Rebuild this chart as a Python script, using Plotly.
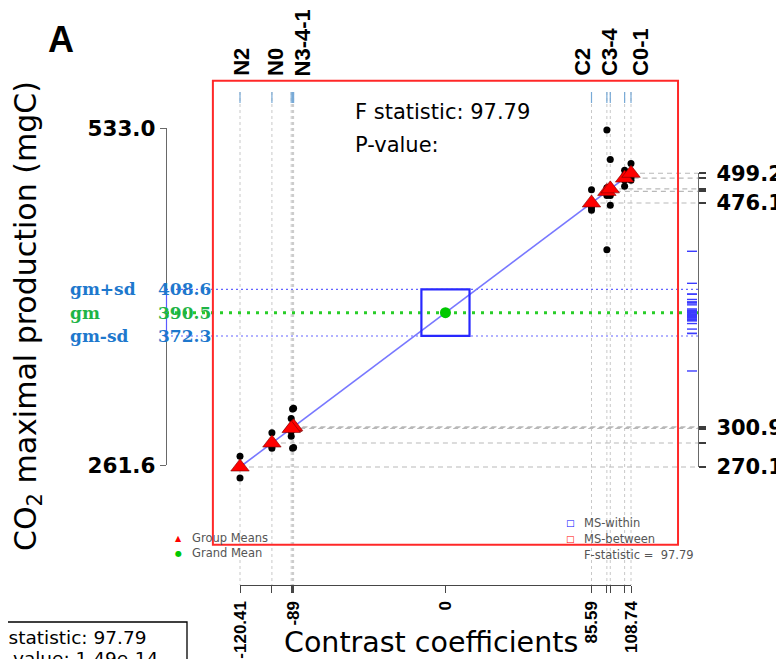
import plotly.graph_objects as go

W, H = 784, 667          # reference picture size
PAGE_OFF = 8             # default page margin of the browser body
FW, FH = W - PAGE_OFF, H - 2 * PAGE_OFF

# ---------------- data ----------------
groups = ["N2", "N0", "N3", "N4", "N1", "C2", "C3", "C4", "C0", "C1"]
contrast = [-120.41, -101.7, -89.6, -89.0, -90.4, 85.59, 94.6, 96.6, 105.0, 108.74]

obs_N2 = [278.5, 261.6, 270.5, 269.8]
obs_N0 = [296.8, 284.7, 287.5, 286.2]
obs_N3 = [315.3, 284.7, 301.0, 302.6]
obs_N4 = [316.0, 285.3, 302.0, 302.7]
obs_N1 = [308.0, 294.0, 300.5, 297.9]
obs_C2 = [486.4, 472.5, 470.5, 475.0]
obs_C3 = [533.0, 439.6, 482.0, 488.0]
obs_C4 = [510.0, 474.3, 483.0, 482.0]
obs_C0 = [501.6, 493.8, 489.1, 497.5]
obs_C1 = [506.8, 500.3, 493.8, 496.0]
observations = [obs_N2, obs_N0, obs_N3, obs_N4, obs_N1,
                obs_C2, obs_C3, obs_C4, obs_C0, obs_C1]

grand_mean = 390.5
gm_plus_sd = 408.6
gm_minus_sd = 372.3
f_statistic = 97.79
p_value_text = "1.49e-14"

left_axis_ticks = [261.6, 533.0]
bottom_tick_labels = ["-120.41", "", "", "-89", "", "85.59", "", "", "", "108.74"]
right_tick_labels = ["270.1", "", "300.9", "", "", "476.1", "", "", "", "499.2"]
top_labels = ["N2", "N0", "N3-4-1", "C2", "C3-4", "C0-1"]
top_label_pos = [-119.9, -99.9, -83.5, 79.9, 95.8, 114.0]

ms_within_half = (14.1, 18.15)     # half side of MS-within square (x, y units)
ms_between_half = (136.3, 181.0)   # half side of MS-between square

# ---------------- derived ----------------
group_means = [grand_mean + c for c in contrast]
cmin, cmax = min(contrast), max(contrast)
mmin, mmax = min(group_means), max(group_means)

# pixel anchors of the plotting scale (reference-picture pixels)
XL_PX, XR_PX = 240.0, 631.0
YB_PX, YT_PX = 467.0, 173.3
kx = (XR_PX - XL_PX) / (cmax - cmin)
ky = (YB_PX - YT_PX) / (mmax - mmin)
x_range = [cmin - (XL_PX - PAGE_OFF) / kx, cmin + (FW - (XL_PX - PAGE_OFF)) / kx]
y_range = [mmin - (FH - (YB_PX - PAGE_OFF)) / ky, mmin + (YB_PX - PAGE_OFF) / ky]


def px_x(p):
    return cmin + (p - XL_PX) / kx


def px_y(p):
    return mmin + (YB_PX - p) / ky


def xp(p):
    return (p - PAGE_OFF) / FW


def yp(p):
    return 1 - (p - PAGE_OFF) / FH


SANS = "DejaVu Sans"
fig = go.Figure()

# regression (contrast) line
fig.add_trace(go.Scatter(x=[cmin, cmax], y=[grand_mean + cmin, grand_mean + cmax],
                         mode="lines", line=dict(color="rgb(120,120,255)", width=1.6),
                         hoverinfo="skip"))

# top rug
rx, ry = [], []
for c in contrast:
    rx += [c, c, None]
    ry += [px_y(92), px_y(103), None]
fig.add_trace(go.Scatter(x=rx, y=ry, mode="lines",
                         line=dict(color="rgb(120,170,215)", width=1.2), hoverinfo="skip"))

# right rug: residuals around grand mean
ux, uy = [], []
for obs, m in zip(observations, group_means):
    for v in obs:
        r = v - m + grand_mean
        ux += [px_x(687), px_x(697), None]
        uy += [r, r, None]
fig.add_trace(go.Scatter(x=ux, y=uy, mode="lines",
                         line=dict(color="rgb(60,60,255)", width=1.4), hoverinfo="skip"))

# observations
ox, oy = [], []
for obs, c in zip(observations, contrast):
    for v in obs:
        ox.append(c)
        oy.append(v)
fig.add_trace(go.Scatter(x=ox, y=oy, mode="markers",
                         marker=dict(color="black", size=7), hoverinfo="skip"))

# group means
fig.add_trace(go.Scatter(x=contrast, y=group_means, mode="markers",
                         marker=dict(symbol="triangle-up", color="red", size=16,
                                     line=dict(color="rgb(120,0,0)", width=0.6)),
                         hoverinfo="skip"))

# grand mean
fig.add_trace(go.Scatter(x=[0], y=[grand_mean], mode="markers",
                         marker=dict(color="rgb(0,200,0)", size=11), hoverinfo="skip"))

# invisible traces to bind the extra axes
fig.add_trace(go.Scatter(x=[cmin, cmax], y=[grand_mean, grand_mean], xaxis="x2", yaxis="y",
                         mode="markers", marker=dict(opacity=0), hoverinfo="skip"))
fig.add_trace(go.Scatter(x=[0, 0], y=left_axis_ticks, xaxis="x", yaxis="y2",
                         mode="markers", marker=dict(opacity=0), hoverinfo="skip"))
fig.add_trace(go.Scatter(x=[0, 0], y=[mmin, mmax], xaxis="x", yaxis="y3",
                         mode="markers", marker=dict(opacity=0), hoverinfo="skip"))

shapes = []
# vertical dotted group lines
for c in contrast:
    shapes.append(dict(type="line", xref="x", yref="y", x0=c, x1=c,
                       y0=px_y(92), y1=px_y(585), layer="below",
                       line=dict(color="rgb(200,200,200)", width=1, dash="dot")))
# horizontal dashed lines from group means to right axis
for c, m in zip(contrast, group_means):
    shapes.append(dict(type="line", xref="x", yref="y", x0=c, x1=px_x(698),
                       y0=m, y1=m, layer="below",
                       line=dict(color="rgb(185,185,185)", width=1.1, dash="5px,4px")))
# gm +/- sd and gm lines
for v in (gm_plus_sd, gm_minus_sd):
    shapes.append(dict(type="line", xref="x", yref="y", x0=px_x(166), x1=px_x(698),
                       y0=v, y1=v, layer="below",
                       line=dict(color="rgb(100,100,255)", width=1.2, dash="2px,3px")))
shapes.append(dict(type="line", xref="x", yref="y", x0=px_x(166), x1=px_x(698),
                   y0=grand_mean, y1=grand_mean, layer="below",
                   line=dict(color="rgb(40,205,40)", width=3, dash="3px,6px")))
shapes.append(dict(type="line", xref="x", yref="y", x0=px_x(166.5), x1=px_x(166.5),
                   y0=gm_minus_sd, y1=gm_plus_sd,
                   line=dict(color="rgb(90,90,255)", width=1.2)))
# MS squares
shapes.append(dict(type="rect", xref="x", yref="y",
                   x0=-ms_between_half[0], x1=ms_between_half[0],
                   y0=grand_mean - ms_between_half[1], y1=grand_mean + ms_between_half[1],
                   line=dict(color="rgb(255,40,40)", width=2)))
shapes.append(dict(type="rect", xref="x", yref="y",
                   x0=-ms_within_half[0], x1=ms_within_half[0],
                   y0=grand_mean - ms_within_half[1], y1=grand_mean + ms_within_half[1],
                   line=dict(color="rgb(40,40,255)", width=2.2)))
# bottom-left stats box
shapes.append(dict(type="rect", xref="paper", yref="paper",
                   x0=xp(-3), x1=xp(187), y0=yp(680), y1=yp(622),
                   line=dict(color="black", width=1.3)))

ann = []


def text(x, y, s, size, color="black", family=SANS, xanchor="left", yanchor="middle",
         angle=0, bold=False):
    ann.append(dict(x=xp(x), y=yp(y), xref="paper", yref="paper", text=s, showarrow=False,
                    xanchor=xanchor, yanchor=yanchor, textangle=angle,
                    font=dict(size=size, color=color, family=family,
                              weight="bold" if bold else "normal")))


text(46, 40, "A", 36, family="Liberation Sans", bold=True)
text(27, 316, "CO<sub>2</sub> maximal production (mgC)", 30, angle=-90, xanchor="center")
text(431, 642, "Contrast coefficients", 28.5, xanchor="center")
text(353, 112, "F statistic: %.2f" % f_statistic, 21)
text(353, 145, "P-value:", 21)
text(-10, 637, "F statistic: %.2f" % f_statistic, 18.5)
text(-6, 658, "P-value: " + p_value_text, 18.5)

# gm labels
blue_lbl = "rgb(30,120,205)"
green_lbl = "rgb(30,180,70)"
SERIF = "DejaVu Serif"
text(68, 289, "gm+sd", 17, blue_lbl, SERIF, bold=True)
text(68, 313, "gm", 17, green_lbl, SERIF, bold=True)
text(68, 336, "gm-sd", 17, blue_lbl, SERIF, bold=True)
text(213, 289, "%.1f" % gm_plus_sd, 17, blue_lbl, SERIF, xanchor="right", bold=True)
text(213, 313, "%.1f" % grand_mean, 17, green_lbl, SERIF, xanchor="right", bold=True)
text(213, 336, "%.1f" % gm_minus_sd, 17, blue_lbl, SERIF, xanchor="right", bold=True)

# top group labels
for lbl, pos in zip(top_labels, top_label_pos):
    ann.append(dict(x=pos, y=yp(78), xref="x", yref="paper", text=lbl, showarrow=False,
                    textangle=-90, xanchor="center", yanchor="bottom",
                    font=dict(size=22, family="Liberation Sans", color="black", weight="bold")))

# inner legends
leg_col = "rgb(85,85,85)"
text(178, 538, "▲", 8, "red", xanchor="center")
text(190, 538, "Group Means", 11.5, leg_col)
text(178, 553, "●", 8, "rgb(0,200,0)", xanchor="center")
text(190, 553, "Grand Mean", 11.5, leg_col)
text(570, 523, "□", 9, "blue", xanchor="center")
text(582, 523, "MS-within", 11.5, leg_col)
text(570, 539, "□", 9, "red", xanchor="center")
text(582, 539, "MS-between", 11.5, leg_col)
text(582, 555, "F-statistic =  %.2f" % f_statistic, 11.5, leg_col)

axis_gray = "rgb(105,105,105)"
fig.update_layout(
    width=FW, height=FH, margin=dict(l=0, r=0, t=0, b=0, autoexpand=False),
    paper_bgcolor="white", plot_bgcolor="rgba(0,0,0,0)", showlegend=False,
    xaxis=dict(domain=[0, 1], range=x_range, visible=False, fixedrange=True),
    yaxis=dict(domain=[0, 1], range=y_range, visible=False, fixedrange=True),
    xaxis2=dict(domain=[xp(XL_PX), xp(XR_PX)], range=[cmin, cmax], anchor="free",
                position=yp(585), side="bottom", showline=True, linecolor="rgb(70,70,70)",
                linewidth=1.4, ticks="outside", ticklen=7, tickwidth=1.4,
                tickcolor="rgb(70,70,70)", showgrid=False, zeroline=False,
                tickvals=contrast + [0], ticktext=bottom_tick_labels + ["0"],
                tickangle=-90, ticklabelstandoff=1,
                tickfont=dict(size=17, family="Liberation Sans", color="black",
                              weight="bold")),
    yaxis2=dict(domain=[yp(465), yp(128)], range=left_axis_ticks, anchor="free",
                position=xp(166), side="left", showline=True, linecolor=axis_gray,
                linewidth=1.4, ticks="outside", ticklen=6, tickwidth=1.4,
                tickcolor=axis_gray, showgrid=False, zeroline=False,
                tickvals=left_axis_ticks, ticktext=["%.1f" % v for v in left_axis_ticks],
                tickfont=dict(size=21.5, family=SANS, color="black", weight="bold")),
    yaxis3=dict(domain=[yp(YB_PX), yp(YT_PX)], range=[mmin, mmax], anchor="free",
                position=xp(698), side="right", showline=True, linecolor=axis_gray,
                linewidth=1.4, ticks="outside", ticklen=7, tickwidth=1.6,
                tickcolor="rgb(60,60,60)", showgrid=False, zeroline=False,
                tickvals=group_means, ticktext=right_tick_labels, ticklabelstandoff=6,
                tickfont=dict(size=21, family=SANS, color="black", weight="bold")),
    shapes=shapes, annotations=ann,
)

fig.write_html("out.html", config={"displayModeBar": False})
